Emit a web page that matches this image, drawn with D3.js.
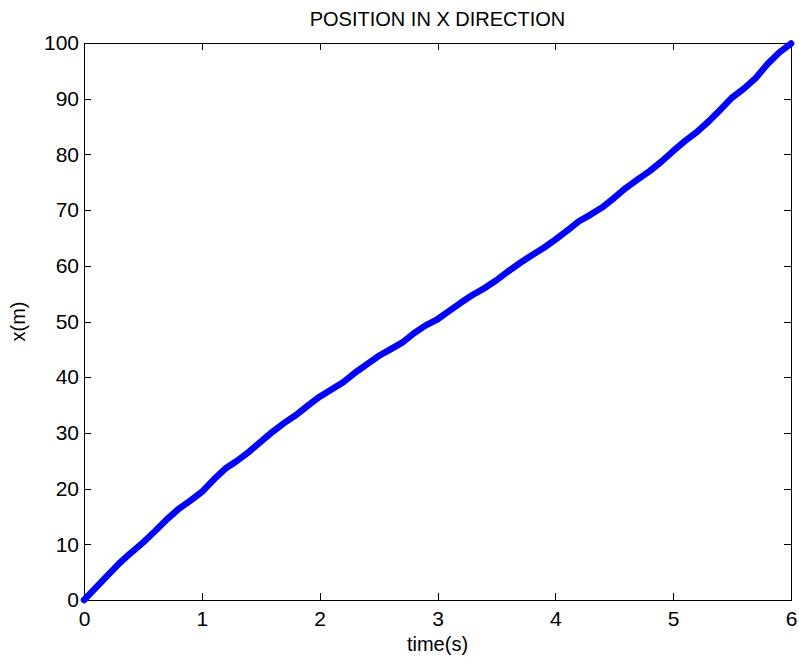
<!DOCTYPE html>
<html>
<head>
<meta charset="utf-8">
<script src="https://cdn.jsdelivr.net/npm/d3@7"></script>
<style>
  html, body { margin: 0; padding: 0; background: #fff; }
  svg { display: block; }
  text { font-family: Arial, "Liberation Sans", Helvetica, sans-serif; fill: #000; }
</style>
</head>
<body>
<svg id="chart" width="799" height="664"></svg>
<script>
// Sampled position of the body along x over time
const timeS = [0.0, 0.1, 0.2, 0.3, 0.4, 0.5, 0.6, 0.7, 0.8, 0.9,
               1.0, 1.1, 1.2, 1.3, 1.4, 1.5, 1.6, 1.7, 1.8, 1.9,
               2.0, 2.1, 2.2, 2.3, 2.4, 2.5, 2.6, 2.7, 2.8, 2.9,
               3.0, 3.1, 3.2, 3.3, 3.4, 3.5, 3.6, 3.7, 3.8, 3.9,
               4.0, 4.1, 4.2, 4.3, 4.4, 4.5, 4.6, 4.7, 4.8, 4.9,
               5.0, 5.1, 5.2, 5.3, 5.4, 5.5, 5.6, 5.7, 5.8, 5.9, 6.0];
const positionM = [0.0, 2.2, 4.4, 6.6, 8.5, 10.3, 12.3, 14.4, 16.3, 17.8,
                   19.4, 21.6, 23.6, 25.0, 26.6, 28.4, 30.2, 31.8, 33.2, 34.9,
                   36.5, 37.8, 39.1, 40.8, 42.3, 43.8, 45.0, 46.2, 47.9, 49.3,
                   50.4, 51.9, 53.4, 54.8, 56.0, 57.4, 59.0, 60.5, 61.9, 63.2,
                   64.7, 66.3, 68.0, 69.2, 70.5, 72.2, 74.0, 75.5, 77.0, 78.7,
                   80.6, 82.4, 84.0, 85.9, 88.0, 90.2, 91.8, 93.7, 96.2, 98.3, 99.9];
const xTicks = [0, 1, 2, 3, 4, 5, 6];
const yTicks = [0, 10, 20, 30, 40, 50, 60, 70, 80, 90, 100];

const titleText = "POSITION IN X DIRECTION";
const xLabelText = "time(s)";
const yLabelText = "x(m)";

const svg = d3.select("#chart");
const box = { left: 84, right: 791, top: 43, bottom: 600 };
const tickLen = 7;
const fontSize = 21;

const x = d3.scaleLinear().domain([0, 6]).range([box.left, box.right]);
const y = d3.scaleLinear().domain([0, 100]).range([box.bottom, box.top]);

// Axis frame with inward ticks on all four sides
const axisG = svg.append("g").attr("shape-rendering", "crispEdges");

const bottomAxis = d3.axisBottom(x).tickValues(xTicks).tickSize(-tickLen).tickPadding(11).tickFormat(d3.format("d"));
const topAxis = d3.axisTop(x).tickValues(xTicks).tickSize(-tickLen).tickFormat("");
const leftAxis = d3.axisLeft(y).tickValues(yTicks).tickSize(-tickLen).tickPadding(5).tickFormat(d3.format("d"));
const rightAxis = d3.axisRight(y).tickValues(yTicks).tickSize(-tickLen).tickFormat("");

function style(g) {
  g.select(".domain").remove();
  g.selectAll(".tick line").attr("stroke", "#000").attr("stroke-width", 1);
  g.selectAll(".tick text").attr("font-size", fontSize).attr("font-family", "Arial, 'Liberation Sans', sans-serif").attr("fill", "#000");
}

axisG.append("g").attr("transform", `translate(0,${box.bottom})`).call(bottomAxis).call(style);
axisG.append("g").attr("transform", `translate(0,${box.top})`).call(topAxis).call(style);
axisG.append("g").attr("transform", `translate(${box.left},0)`).call(leftAxis).call(style);
axisG.append("g").attr("transform", `translate(${box.right},0)`).call(rightAxis).call(style);

axisG.append("rect")
  .attr("x", box.left).attr("y", box.top)
  .attr("width", box.right - box.left).attr("height", box.bottom - box.top)
  .attr("fill", "none").attr("stroke", "#000").attr("stroke-width", 1);

// Trajectory line
const line = d3.line()
  .x((d, i) => x(timeS[i]))
  .y(d => y(d));

svg.append("path")
  .datum(positionM)
  .attr("d", line)
  .attr("fill", "none")
  .attr("stroke", "#0000ff")
  .attr("stroke-width", 6.5)
  .attr("stroke-linejoin", "round")
  .attr("stroke-linecap", "round");

// Title and axis labels
svg.append("text")
  .attr("x", (box.left + box.right) / 2).attr("y", 26)
  .attr("text-anchor", "middle").attr("font-size", 20)
  .text(titleText);

svg.append("text")
  .attr("x", (box.left + box.right) / 2).attr("y", 651)
  .attr("text-anchor", "middle").attr("font-size", 20)
  .text(xLabelText);

svg.append("text")
  .attr("transform", `translate(25,${(box.top + box.bottom) / 2}) rotate(-90)`)
  .attr("text-anchor", "middle").attr("font-size", 20)
  .text(yLabelText);
</script>
</body>
</html>
